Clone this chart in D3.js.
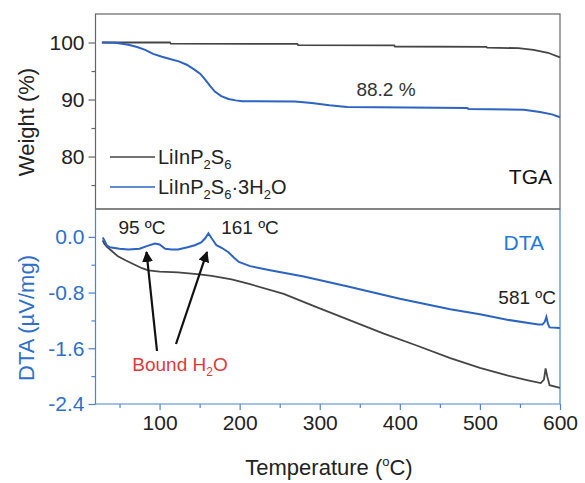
<!DOCTYPE html>
<html>
<head>
<meta charset="utf-8">
<script src="https://cdn.jsdelivr.net/npm/d3@7"></script>
<style>
  body { margin: 0; background: #fff; }
  text { font-family: "Liberation Sans", Arial, sans-serif; }
</style>
</head>
<body>
<div id="chart"></div>
<script>
// TGA / DTA of LiInP2S6 and its hydrate

// TGA, anhydrous
const tgaTempA = [28, 113, 114, 272, 273, 393, 394, 508, 509, 548, 567, 585, 600];
const tgaWtA = [100, 100, 99.8, 99.75, 99.55, 99.5, 99.3, 99.25, 99.1, 99.0, 98.7, 98.2, 97.4];
// TGA, hydrate
const tgaTempH = [28, 45, 61, 72, 82, 92, 103, 113, 124, 134, 144, 151, 157, 163, 169, 177, 186, 195, 203, 269, 290, 312, 334, 484, 486, 555, 575, 590, 600];
const tgaWtH = [100, 99.95, 99.6, 99.2, 98.7, 98.0, 97.5, 97.1, 96.7, 96.1, 95.2, 94.5, 93.5, 92.4, 91.4, 90.6, 90.1, 89.85, 89.7, 89.65, 89.4, 89.0, 88.7, 88.5, 88.35, 88.2, 87.8, 87.4, 86.9];
// DTA, anhydrous
const dtaTempA = [29, 31, 34, 40, 48, 58, 69, 78, 86, 100, 123, 150, 165, 190, 213, 255, 296, 338, 380, 421, 463, 500, 534, 560, 576, 580, 582, 584, 587, 600];
const dtaValA = [-0.05, -0.10, -0.14, -0.20, -0.28, -0.34, -0.40, -0.45, -0.48, -0.50, -0.51, -0.54, -0.56, -0.61, -0.68, -0.82, -1.01, -1.20, -1.39, -1.56, -1.74, -1.88, -1.99, -2.06, -2.10, -2.05, -1.89, -2.0, -2.13, -2.17];
// DTA, hydrate
const dtaTempH = [29, 31, 34, 38, 50, 61, 75, 85, 94, 100, 107, 115, 123, 135, 144, 152, 157, 161, 165, 171, 178, 186, 193, 199, 213, 238, 280, 338, 400, 463, 500, 534, 573, 578, 581, 583, 585, 587, 600];
const dtaValH = [-0.01, -0.05, -0.12, -0.15, -0.17, -0.18, -0.17, -0.13, -0.095, -0.11, -0.17, -0.18, -0.18, -0.15, -0.12, -0.08, -0.02, 0.05, -0.02, -0.12, -0.16, -0.22, -0.30, -0.36, -0.42, -0.48, -0.57, -0.72, -0.89, -1.04, -1.11, -1.19, -1.26, -1.26, -1.22, -1.15, -1.25, -1.30, -1.31];

const xMajor = [100, 200, 300, 400, 500, 600];
const xMinor = [50, 150, 250, 350, 450, 550];
const wtMajor = [80, 90, 100];
const wtMinor = [75, 85, 95];
const dtaMajor = [-2.4, -1.6, -0.8, 0.0];
const dtaMinor = [-2.0, -1.2, -0.4];

const black = '#454545';
const blue = '#2c63c4';
const axisBlue = '#4a84d2';
const labelBlue = '#2f6fcb';

const svg = d3.select('#chart').append('svg')
  .attr('width', 585)
  .attr('height', 483);

const x = d3.scaleLinear().domain([20, 600]).range([95.5, 560]);
const yT = d3.scaleLinear().domain([70.8, 105]).range([209, 14]);
const yB = d3.scaleLinear().domain([-2.4, 0.4]).range([404, 209]);

const zip = (a, b) => a.map((t, i) => [t, b[i]]);

// ---- top panel (TGA)
svg.append('rect')
  .attr('x', x(20)).attr('y', 14)
  .attr('width', x(600) - x(20)).attr('height', 195)
  .attr('fill', 'none').attr('stroke', '#666').attr('stroke-width', 1.2);

const gYT = svg.append('g').attr('transform', `translate(${x(20)},0)`)
  .call(d3.axisLeft(yT).tickValues(wtMajor).tickSize(7).tickPadding(4).tickFormat(d3.format('d')));
svg.append('g').attr('transform', `translate(${x(20)},0)`)
  .call(d3.axisLeft(yT).tickValues(wtMinor).tickSize(4).tickFormat(''));
svg.selectAll('.domain').remove();
gYT.selectAll('text').attr('font-size', 21).attr('fill', '#222').attr('font-family', '"Liberation Sans", Arial, sans-serif');
svg.selectAll('.tick line').attr('stroke', '#666').attr('stroke-width', 1.2);

const lineT = d3.line().x(d => x(d[0])).y(d => yT(d[1]));
svg.append('path').datum(zip(tgaTempA, tgaWtA))
  .attr('d', lineT).attr('fill', 'none').attr('stroke', black).attr('stroke-width', 1.8);
svg.append('path').datum(zip(tgaTempH, tgaWtH))
  .attr('d', lineT).attr('fill', 'none').attr('stroke', blue).attr('stroke-width', 2);

// legend
const legend = svg.append('g');
[[black, false], [blue, true]].forEach(([c, hyd], i) => {
  const ly = 157 + i * 30;
  legend.append('line').attr('x1', 110).attr('x2', 155).attr('y1', ly).attr('y2', ly)
    .attr('stroke', c).attr('stroke-width', 1.6);
  const t = legend.append('text').attr('x', 158).attr('y', ly + 7).attr('font-size', 20).attr('fill', '#222');
  t.append('tspan').text('LiInP');
  t.append('tspan').text('2').attr('font-size', 13).attr('dy', 5);
  t.append('tspan').text('S').attr('dy', -5);
  t.append('tspan').text('6').attr('font-size', 13).attr('dy', 5);
  if (hyd) {
    t.append('tspan').text('·3H').attr('dy', -5);
    t.append('tspan').text('2').attr('font-size', 13).attr('dy', 5);
    t.append('tspan').text('O').attr('dy', -5);
  }
});

svg.append('text').attr('x', 386).attr('y', 96).attr('text-anchor', 'middle')
  .attr('font-size', 19).attr('fill', '#333').text('88.2 %');
svg.append('text').attr('x', 552).attr('y', 184).attr('text-anchor', 'end')
  .attr('font-size', 21).attr('fill', '#111').text('TGA');

// ---- bottom panel (DTA)
const gYB = svg.append('g').attr('class', 'dta').attr('transform', `translate(${x(20)},0)`)
  .call(d3.axisLeft(yB).tickValues(dtaMajor).tickSize(7).tickPadding(4).tickFormat(d => d.toFixed(1)));
svg.append('g').attr('class', 'dta').attr('transform', `translate(${x(20)},0)`)
  .call(d3.axisLeft(yB).tickValues(dtaMinor).tickSize(4).tickFormat(''));
const gX = svg.append('g').attr('class', 'dta').attr('transform', 'translate(0,404)')
  .call(d3.axisBottom(x).tickValues(xMajor).tickSize(6).tickPadding(5).tickFormat(d3.format('d')));
svg.append('g').attr('class', 'dta').attr('transform', 'translate(0,404)')
  .call(d3.axisBottom(x).tickValues(xMinor).tickSize(4).tickFormat(''));
svg.selectAll('.dta .domain').remove();
svg.selectAll('.dta .tick line').attr('stroke', axisBlue).attr('stroke-width', 1.2);
gYB.selectAll('text').attr('font-size', 21).attr('fill', labelBlue).attr('font-family', '"Liberation Sans", Arial, sans-serif');
gX.selectAll('text').attr('font-size', 21).attr('fill', '#222').attr('font-family', '"Liberation Sans", Arial, sans-serif');

// frame: blue left, right, bottom
svg.append('path')
  .attr('d', `M${x(20)},209V404H${x(600)}V209`)
  .attr('fill', 'none').attr('stroke', axisBlue).attr('stroke-width', 1.2);
svg.append('line').attr('x1', x(20)).attr('x2', x(600)).attr('y1', 209).attr('y2', 209)
  .attr('stroke', '#666').attr('stroke-width', 1.2);

const lineB = d3.line().x(d => x(d[0])).y(d => yB(d[1]));
svg.append('path').datum(zip(dtaTempA, dtaValA))
  .attr('d', lineB).attr('fill', 'none').attr('stroke', black).attr('stroke-width', 1.8);
svg.append('path').datum(zip(dtaTempH, dtaValH))
  .attr('d', lineB).attr('fill', 'none').attr('stroke', blue).attr('stroke-width', 2);

// annotations
svg.append('text').attr('x', 142).attr('y', 234).attr('text-anchor', 'middle')
  .attr('font-size', 19).attr('fill', '#222').text('95 ºC');
svg.append('text').attr('x', 250).attr('y', 234).attr('text-anchor', 'middle')
  .attr('font-size', 19).attr('fill', '#222').text('161 ºC');
svg.append('text').attr('x', 556).attr('y', 304).attr('text-anchor', 'end')
  .attr('font-size', 19).attr('fill', '#222').text('581 ºC');
svg.append('text').attr('x', 544).attr('y', 250).attr('text-anchor', 'end')
  .attr('font-size', 21).attr('fill', '#1f7ad8').text('DTA');

const bound = svg.append('text').attr('x', 180).attr('y', 371).attr('text-anchor', 'middle')
  .attr('font-size', 19).attr('fill', '#e0393a');
bound.append('tspan').text('Bound H');
bound.append('tspan').text('2').attr('font-size', 12).attr('dy', 5);
bound.append('tspan').text('O').attr('dy', -5);

const defs = svg.append('defs');
defs.append('marker').attr('id', 'arr')
  .attr('viewBox', '0 0 10 10').attr('refX', 9).attr('refY', 5)
  .attr('markerWidth', 5).attr('markerHeight', 5).attr('orient', 'auto')
  .append('path').attr('d', 'M0,0L10,5L0,10z').attr('fill', '#111');
[[157, 351, 146.5, 252], [176, 344, 207, 252]].forEach(a => {
  svg.append('line').attr('x1', a[0]).attr('y1', a[1]).attr('x2', a[2]).attr('y2', a[3])
    .attr('stroke', '#111').attr('stroke-width', 2.2).attr('marker-end', 'url(#arr)');
});

// axis titles
svg.append('text').attr('transform', 'translate(34,122) rotate(-90)')
  .attr('text-anchor', 'middle').attr('font-size', 22).attr('fill', '#222').text('Weight (%)');
svg.append('text').attr('transform', 'translate(34,318) rotate(-90)')
  .attr('text-anchor', 'middle').attr('font-size', 22).attr('fill', labelBlue).text('DTA (µV/mg)');

const xt = svg.append('text').attr('x', 329).attr('y', 475).attr('text-anchor', 'middle')
  .attr('font-size', 22).attr('fill', '#222');
xt.append('tspan').text('Temperature (');
xt.append('tspan').text('o').attr('font-size', 13).attr('dy', -9);
xt.append('tspan').text('C)').attr('dy', 9);
</script>
</body>
</html>
